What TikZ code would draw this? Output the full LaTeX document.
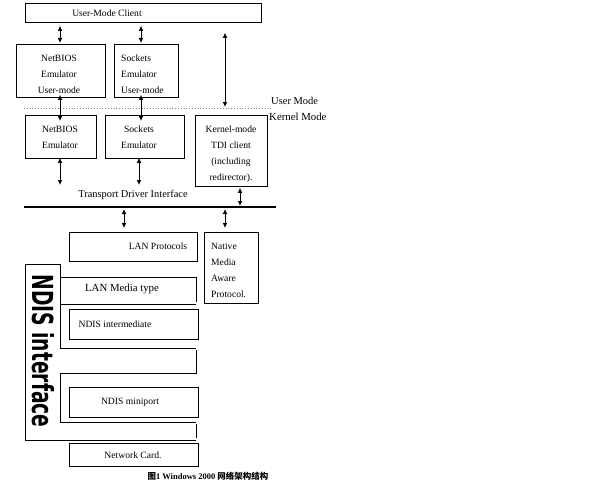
\documentclass[tikz,border=0pt]{standalone}
\usepackage{fontspec}
\setmainfont{Liberation Serif}
\newfontfamily\cjk{Noto Sans CJK SC}
\newfontfamily\heavy{DejaVu Sans}
\usetikzlibrary{arrows.meta}
\begin{document}
\begin{tikzpicture}[x=1pt,y=-1pt,
  box/.style={draw, line width=0.8pt, inner sep=0pt, anchor=north west},
  txt/.style={inner sep=0pt, font=\fontsize{9.6}{16}\selectfont, align=center},
  dar/.style={{Latex[length=5pt,width=4.6pt]}-{Latex[length=5pt,width=4.6pt]}, line width=0.8pt},
  seg/.style={line width=0.8pt}]
\useasboundingbox (0,0) rectangle (593,495);
% boxes
\node[box, minimum width=236pt, minimum height=19pt] (client) at (25,3) {};
\node[box, minimum width=89pt, minimum height=53pt] (nbu) at (16,44) {};
\node[box, minimum width=64pt, minimum height=53pt] (sku) at (114,44) {};
\node[box, minimum width=71pt, minimum height=43pt] (nbk) at (25,115) {};
\node[box, minimum width=79pt, minimum height=43pt] (skk) at (105,115) {};
\node[box, minimum width=72pt, minimum height=71pt] (tdi) at (195,115) {};
\node[box, minimum width=128pt, minimum height=29pt] (lanp) at (69,232) {};
\node[box, minimum width=54pt, minimum height=71pt] (nmap) at (204,232) {};
\node[box, minimum width=129pt, minimum height=30pt] (ndint) at (69,309) {};
\node[box, minimum width=129pt, minimum height=30pt] (mini) at (69,387) {};
\node[box, minimum width=129pt, minimum height=23pt] (card) at (69,443) {};
% texts
\node[txt] (tclient) at (107,13) {User-Mode Client};
\node[txt] (tnbu) at (59,74) {NetBIOS\\Emulator\\User-mode};
\node[txt, align=left, anchor=west] (tsku) at (121,74) {Sockets\\Emulator\\User-mode};
\node[txt] (tnbk) at (60,137) {NetBIOS\\Emulator};
\node[txt] (tskk) at (139,137) {Sockets\\Emulator};
\node[txt] (ttdi) at (231,154) {Kernel-mode\\TDI client\\(including\\redirector).};
\node[txt] (tlanp) at (158,246) {LAN Protocols};
\node[txt, align=left, anchor=west] (tnmap) at (211,270) {Native\\Media\\Aware\\Protocol.};
\node[txt, font=\fontsize{10.8}{12}\selectfont] (tlmt) at (122,289) {LAN Media type};
\node[txt] (tndint) at (115,324) {NDIS intermediate};
\node[txt] (tmini) at (130,402) {NDIS miniport};
\node[txt] (tcard) at (133,455) {Network Card.};
\node[txt, font=\fontsize{10.4}{12}\selectfont] (ttdilbl) at (133,195) {Transport Driver Interface};
\node[txt, font=\fontsize{10.5}{12}\selectfont, anchor=west] (tum) at (271,101) {User Mode};
\node[txt, font=\fontsize{10.8}{12}\selectfont, anchor=west] (tkm) at (269,117) {Kernel Mode};
\node[inner sep=0pt, rotate=-90] (tndis) at (43,351) {\scalebox{1.87}[2.9]{\heavy\bfseries\fontsize{10}{12}\selectfont NDIS interface}};
\node[inner sep=0pt] (cap) at (208,476) {\bfseries\fontsize{8.5}{10}\selectfont{\cjk\bfseries 图}1 Windows 2000 {\cjk\bfseries 网络架构结构}};
% mode separator and TDI bar
\coordinate (dl) at (24,108);
\coordinate (dr) at (272,108);
\draw[dotted, gray, line width=0.8pt] (dl) -- (dr);
\coordinate (bl) at (24,207);
\coordinate (br) at (276,207);
\draw[line width=2.6pt] (bl) -- (br);
% arrow x positions
\coordinate (x1) at (60,0);
\coordinate (x2) at (141,0);
\coordinate (x3) at (225,0);
\coordinate (x4) at (139,0);
\coordinate (x5) at (240,0);
\coordinate (x6) at (124,0);
% arrows
\draw[dar, shorten <=3pt, shorten >=1pt] (client.south -| x1) -- (nbu.north -| x1);
\draw[dar, shorten <=3pt, shorten >=1pt] (client.south -| x2) -- (sku.north -| x2);
\draw[dar, shorten <=10pt, shorten >=8pt] (client.south -| x3) -- (tdi.north -| x3);
\draw[dar, shorten <=-3pt, shorten >=-6pt] (nbu.south -| x1) -- (nbk.north -| x1);
\draw[dar, shorten <=-3pt, shorten >=-6pt] (sku.south -| x2) -- (skk.north -| x2);
\draw[dar, shorten <=-1pt, shorten >=22pt] (nbk.south -| x1) -- (bl -| x1);
\draw[dar, shorten <=-1pt, shorten >=22pt] (skk.south -| x4) -- (bl -| x4);
\draw[dar, shorten <=1pt, shorten >=1pt] (tdi.south -| x5) -- (bl -| x5);
\draw[dar, shorten <=2pt, shorten >=4pt] (bl -| x6) -- (lanp.north -| x6);
\draw[dar, shorten <=2pt, shorten >=4pt] (bl -| x3) -- (nmap.north -| x3);
% NDIS interface frame
\draw[seg] (196,440) -- (25,440) -- (25,264) -- (60,264) -- (60,348) -- (196,348);
\draw[seg] (60,277) -- (196,277) -- (196,302);
\draw[seg] (60,304) -- (196,304);
\draw[seg] (196,350) -- (196,373) -- (60,373) -- (60,422) -- (196,422);
\draw[seg] (196,424) -- (196,438);
\end{tikzpicture}
\end{document}
